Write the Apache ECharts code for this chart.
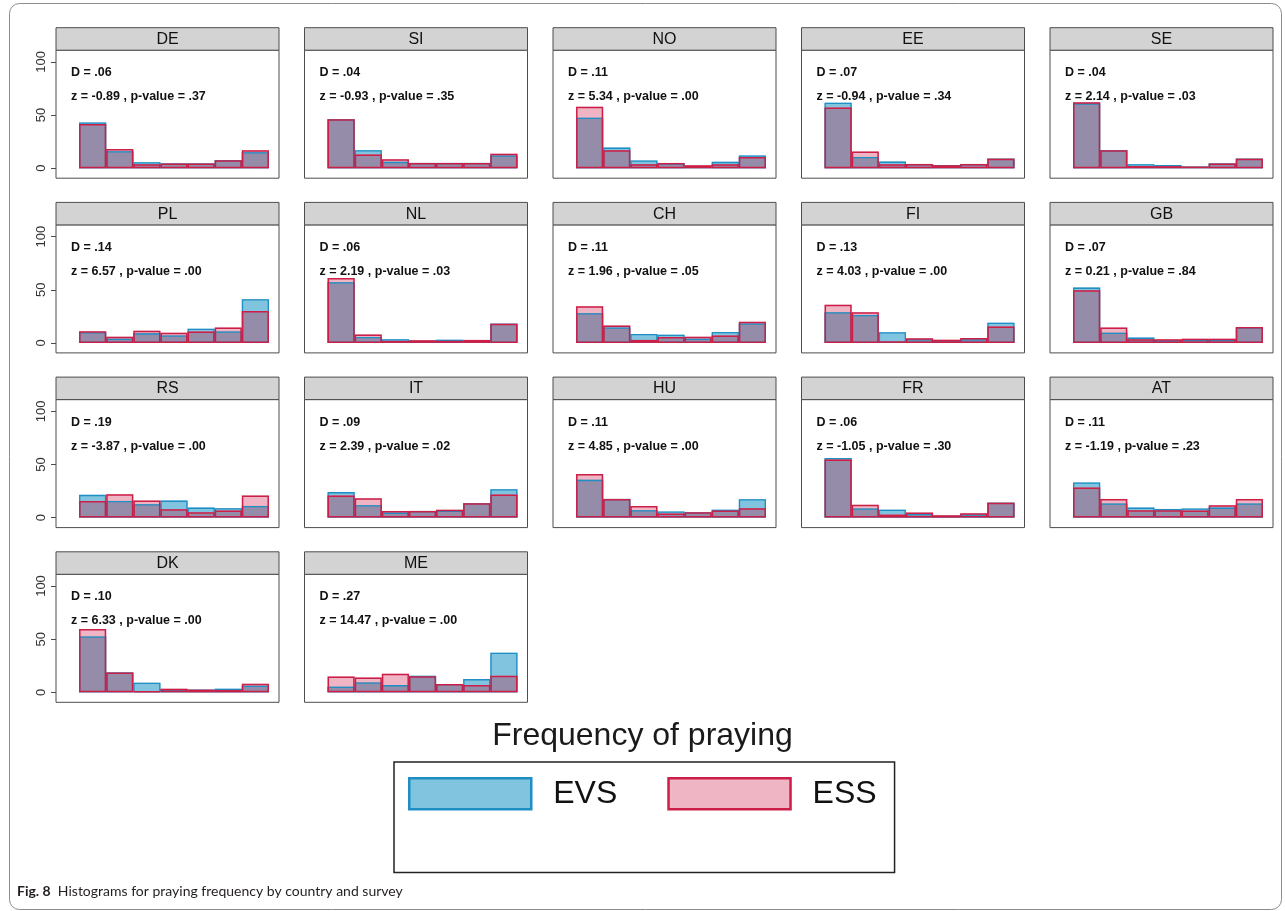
<!DOCTYPE html>
<html><head><meta charset="utf-8">
<script src="https://cdn.jsdelivr.net/npm/echarts@6/dist/echarts.min.js"></script>
<style>html,body{margin:0;padding:0;background:#fff}#c{width:1285px;height:911px}</style>
</head><body><div id="c"></div>
<script>
// ---------- data ----------
const countries = ['DE','SI','NO','EE','SE','PL','NL','CH','FI','GB','RS','IT','HU','FR','AT','DK','ME'];
const categories = ['Every day','More than once a week','Once a week','At least once a month','Only on special holy days','Less often','Never'];
const yTicks = [0, 50, 100];

const EVS_DE = [43, 16, 5.6, 4.4, 4.4, 7.5, 15];
const ESS_DE = [41.5, 18, 3.7, 4.4, 4.4, 7.5, 17];
const EVS_SI = [46, 17, 6, 5, 5, 5, 12];
const ESS_SI = [46, 13, 8.4, 5, 5, 5, 13.7];
const EVS_NO = [47.5, 19.4, 7.2, 4.4, 1.6, 6, 12];
const ESS_NO = [57.8, 17, 3.7, 5, 2.8, 3.7, 10.6];
const EVS_EE = [61.5, 10.6, 6.2, 4, 2.8, 4, 9];
const ESS_EE = [57, 15.6, 3.7, 4, 2.8, 4, 9];
const EVS_SE = [61, 17, 3.7, 3, 1.5, 4.4, 9];
const ESS_SE = [62, 17, 2, 2, 1.5, 4.4, 9];
const EVS_PL = [10, 4, 9, 7, 13.3, 10.8, 41];
const ESS_PL = [11, 5.9, 11.5, 9.6, 10.8, 14.5, 30];
const EVS_NL = [57, 5.6, 3.4, 2, 3, 2, 18];
const ESS_NL = [61, 8, 1.9, 2.5, 2, 2.8, 18];
const EVS_CH = [28, 14.5, 8.4, 7.7, 4, 10.2, 18.3];
const ESS_CH = [34.4, 16.4, 2.8, 5.6, 5.9, 7, 19.8];
const EVS_FI = [28.8, 26.3, 10, 3.4, 2.2, 3.4, 19];
const ESS_FI = [36, 28.8, 1.5, 4.3, 3, 4.6, 15.5];
const EVS_GB = [52, 9.6, 5, 2.5, 3, 3, 14.5];
const ESS_GB = [49.5, 14.5, 3.4, 3.4, 4, 4, 15];
const EVS_RS = [21.4, 15.7, 12.6, 16, 9.4, 8.8, 11];
const ESS_RS = [15.7, 22, 16, 7.9, 5, 6.6, 20.8];
const EVS_IT = [24, 11.6, 4.7, 6.3, 6.6, 13.5, 26.7];
const ESS_IT = [20.8, 18.2, 6.3, 6.3, 7.5, 13.5, 21.7];
const EVS_HU = [35.5, 17.6, 6.9, 5.7, 4.8, 7.5, 17.3];
const ESS_HU = [41, 17.6, 11, 3.8, 5, 6.6, 8.8];
const EVS_FR = [56, 8.5, 7.5, 3.5, 1.6, 3, 14];
const ESS_FR = [54.7, 12, 2.8, 4.7, 2.2, 4, 14];
const EVS_AT = [33, 13.2, 9.4, 8.2, 8.5, 9.4, 13.2];
const ESS_AT = [28.3, 17.6, 6.9, 6.9, 6.6, 11.6, 17.6];
const EVS_DK = [52.5, 18.6, 9, 2.5, 2.5, 3.4, 6.2];
const ESS_DK = [59.6, 18.6, 1, 3.4, 2.5, 2.2, 8];
const EVS_ME = [5.3, 9.3, 6.8, 15.5, 7.8, 12.4, 37.3];
const ESS_ME = [14.9, 14, 17.4, 15, 7.8, 6.8, 15.5];

const dStats = ['.06','.04','.11','.07','.04','.14','.06','.11','.13','.07','.19','.09','.11','.06','.11','.10','.27'];
const zStats = ['-0.89','-0.93','5.34','-0.94','2.14','6.57','2.19','1.96','4.03','0.21','-3.87','2.39','4.85','-1.05','-1.19','6.33','14.47'];
const pStats = ['.37','.35','.00','.34','.03','.00','.03','.05','.00','.84','.00','.02','.00','.30','.23','.00','.00'];

const EVS = [EVS_DE,EVS_SI,EVS_NO,EVS_EE,EVS_SE,EVS_PL,EVS_NL,EVS_CH,EVS_FI,EVS_GB,EVS_RS,EVS_IT,EVS_HU,EVS_FR,EVS_AT,EVS_DK,EVS_ME];
const ESS = [ESS_DE,ESS_SI,ESS_NO,ESS_EE,ESS_SE,ESS_PL,ESS_NL,ESS_CH,ESS_FI,ESS_GB,ESS_RS,ESS_IT,ESS_HU,ESS_FR,ESS_AT,ESS_DK,ESS_ME];

// ---------- layout & style ----------
const COL_X = [56, 304.5, 553, 801.5, 1050];
const ROW_Y = [27.7, 202.4, 377.1, 551.8];
const PANEL_W = 223, STRIP_H = 22.5, PLOT_H = 128;
const EVS_FILL = '#80c4df', EVS_LINE = '#1f8ec4';
const ESS_FILL = '#f0b5c4', ESS_LINE = '#cc1f48';
const OVERLAP = '#958ca9';
const FONT = '"Liberation Sans", Arial, Helvetica, sans-serif';

const grids = [], xAxes = [], yAxes = [], series = [], graphics = [];

graphics.push({type:'rect', silent:true, shape:{x:9.5, y:3.5, width:1272, height:906, r:10},
  style:{fill:'none', stroke:'#8c8c8c', lineWidth:1}});

countries.forEach((c, i) => {
  const col = i % 5, row = Math.floor(i / 5);
  const x0 = COL_X[col], y0 = ROW_Y[row];
  grids.push({left:x0, top:y0 + STRIP_H, width:PANEL_W, height:PLOT_H, show:true,
    borderColor:'#4d4d4d', borderWidth:1, backgroundColor:'#fff', containLabel:false, outerBoundsMode:'none'});
  xAxes.push({type:'value', gridIndex:i, min:-0.35, max:7.87, show:false,
    axisLine:{onZero:false}});
  const first = col === 0;
  yAxes.push({type:'value', gridIndex:i, min:-9.4, max:111, show:first,
    axisLine:{show:false, onZero:false}, splitLine:{show:false},
    axisTick:{show:first, length:5, customValues:yTicks, lineStyle:{color:'#4d4d4d'}},
    axisLabel:{show:first, customValues:yTicks, rotate:90, margin:8, fontSize:13, color:'#333', fontFamily:FONT}});

  const evs = EVS[i], ess = ESS[i];
  const pts = arr => arr.map((v, k) => [k + 1, v]);   // bin k+1 = categories[k]
  const overlap = evs.map((v, k) => Math.min(v, ess[k]));
  const base = {type:'bar', xAxisIndex:i, yAxisIndex:i, barWidth:'100%', barGap:'-100%', silent:true, animation:false};
  series.push(Object.assign({}, base, {name:'EVS', data:pts(evs), itemStyle:{color:EVS_FILL}}));
  series.push(Object.assign({}, base, {name:'ESS', data:pts(ess), itemStyle:{color:ESS_FILL}}));
  series.push(Object.assign({}, base, {name:'both', data:pts(overlap), itemStyle:{color:OVERLAP}}));
  series.push(Object.assign({}, base, {name:'EVS outline', data:pts(evs),
    itemStyle:{color:'rgba(0,0,0,0)', borderColor:EVS_LINE, borderWidth:1.3}}));
  series.push(Object.assign({}, base, {name:'ESS outline', data:pts(ess),
    itemStyle:{color:'rgba(0,0,0,0)', borderColor:ESS_LINE, borderWidth:1.5}}));

  // strip
  graphics.push({type:'rect', silent:true, shape:{x:x0, y:y0, width:PANEL_W, height:STRIP_H},
    style:{fill:'#d3d3d3', stroke:'#4d4d4d', lineWidth:1}});
  graphics.push({type:'text', silent:true, style:{text:c, x:x0 + PANEL_W/2, y:y0 + STRIP_H/2 + 0.5,
    align:'center', verticalAlign:'middle', font:'16px ' + FONT, fill:'#111'}});
  // stats
  const py = y0 + STRIP_H;
  graphics.push({type:'text', silent:true, style:{text:'D = ' + dStats[i], x:x0 + 15, y:py + 22.7,
    align:'left', verticalAlign:'middle', font:'bold 12.5px ' + FONT, fill:'#111'}});
  graphics.push({type:'text', silent:true, style:{text:'z = ' + zStats[i] + ' , p-value = ' + pStats[i], x:x0 + 15, y:py + 46.5,
    align:'left', verticalAlign:'middle', font:'bold 12.5px ' + FONT, fill:'#111'}});
});

const option = {
  backgroundColor:'#fff',
  animation:false,
  grid:grids, xAxis:xAxes, yAxis:yAxes, series:series,
  title:[
    {text:'Frequency of praying', left:'center', top:720, padding:0,
      textStyle:{fontSize:32, fontWeight:'normal', color:'#1a1a1a', fontFamily:FONT}},
    {text:'{b|Fig. 8}  Histograms for praying frequency by country and survey', left:17, top:884, padding:0,
      textStyle:{fontSize:14, fontWeight:'normal', color:'#231f20', fontFamily:'Lato, "Open Sans", sans-serif',
        rich:{b:{fontSize:14, fontWeight:'bold', color:'#231f20', fontFamily:'Lato, "Open Sans", sans-serif'}}}}
  ],
  legend:{
    left:394, top:762, orient:'horizontal', selectedMode:false,
    padding:[15, 18, 62, 14], itemGap:50, itemWidth:122, itemHeight:31, icon:'rect',
    borderColor:'#222', borderWidth:1.5, backgroundColor:'#fff',
    textStyle:{fontSize:32, color:'#111', fontFamily:FONT, padding:[0,0,0,17]},
    data:[
      {name:'EVS', itemStyle:{color:EVS_FILL, borderColor:EVS_LINE, borderWidth:2.5}},
      {name:'ESS', itemStyle:{color:ESS_FILL, borderColor:ESS_LINE, borderWidth:2.5}}
    ]
  },
  graphic:graphics
};
const chart = echarts.init(document.getElementById('c'), null, {renderer:'canvas'});
chart.setOption(option);
</script></body></html>
